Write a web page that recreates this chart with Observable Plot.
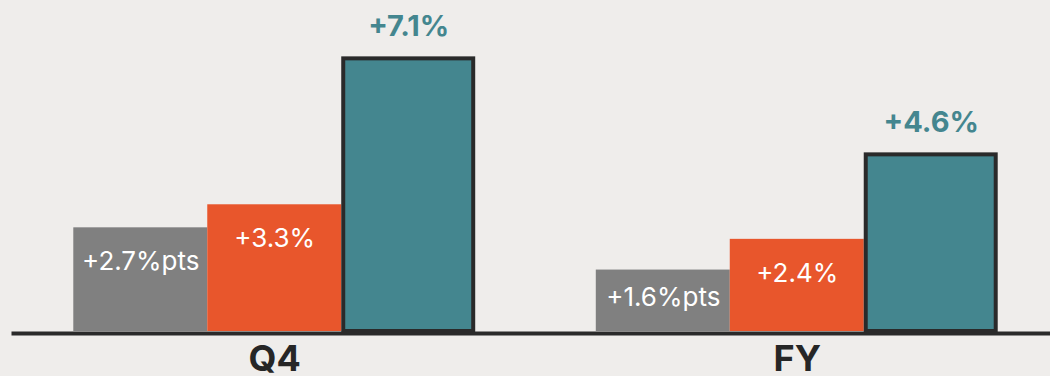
<!DOCTYPE html>
<html><head><meta charset="utf-8">
<script src="https://cdn.jsdelivr.net/npm/d3@7"></script>
<script src="https://cdn.jsdelivr.net/npm/@observablehq/plot@0.6"></script>
<style>html,body{margin:0;padding:0;background:#efedeb;overflow:hidden;} #chart svg{display:block;overflow:hidden}</style>
</head><body><div id="chart"></div>
<script>
const categories = ["Q4", "FY"];
const seriesKeys = ["s1", "s2", "s3"];
const q4Values = [2.7, 3.3, 7.1];
const fyValues = [1.6, 2.4, 4.6];
const q4Labels = ["+2.7%pts", "+3.3%", "+7.1%"];
const fyLabels = ["+1.6%pts", "+2.4%", "+4.6%"];
const seriesColors = ["#808080", "#e8562c", "#44868f"];

const data = [];
categories.forEach((c, i) => {
  const vals = i === 0 ? q4Values : fyValues;
  const labs = i === 0 ? q4Labels : fyLabels;
  seriesKeys.forEach((s, j) => data.push({category: c, series: s, value: vals[j], label: labs[j]}));
});

const inside = data.filter(d => d.series !== "s3");
const teal = data.filter(d => d.series === "s3");

const chart = Plot.plot({
  width: 1050, height: 376,
  marginLeft: 13, marginRight: -8, marginTop: 23.8, marginBottom: 45,
  style: {background: "#efedeb", fontFamily: "Inter, sans-serif", overflow: "hidden"},
  fx: {domain: categories, padding: 0, round: false, axis: null},
  x: {domain: seriesKeys, paddingInner: 0, paddingOuter: 0.45, round: false, axis: null},
  y: {domain: [0, 8], axis: null},
  color: {domain: seriesKeys, range: seriesColors},
  marks: [
    Plot.barY(inside, {fx: "category", x: "series", y: "value", fill: "series"}),
    Plot.barY(teal, {fx: "category", x: "series", y: "value", fill: "series",
      stroke: "#2a2a2a", strokeWidth: 4, insetLeft: 2, insetRight: 2, insetTop: 0, insetBottom: 0}),
    Plot.frame({anchor: "bottom", facet: "super", stroke: "#2a2a2a", strokeWidth: 4, dy: 2}),
    Plot.text(inside.filter(d => d.value >= 2), {fx: "category", x: "series", y: "value", text: "label",
      fill: "white", fontSize: 26, lineAnchor: "top", dy: 24}),
    Plot.text(inside.filter(d => d.value < 2), {fx: "category", x: "series", y: "value", text: "label",
      fill: "white", fontSize: 26, lineAnchor: "top", dy: 17}),
    Plot.text(teal, {fx: "category", x: "series", y: "value", text: "label",
      fill: "#44868f", fontSize: 29, fontWeight: "bold", lineAnchor: "top", dy: -43}),
    Plot.text(categories, {fx: d => d, text: d => d, frameAnchor: "bottom", lineAnchor: "top", dy: 14,
      fontSize: 36, fontWeight: "bold", fill: "#262626"})
  ]
});
document.getElementById("chart").appendChild(chart);
</script>
</body></html>
